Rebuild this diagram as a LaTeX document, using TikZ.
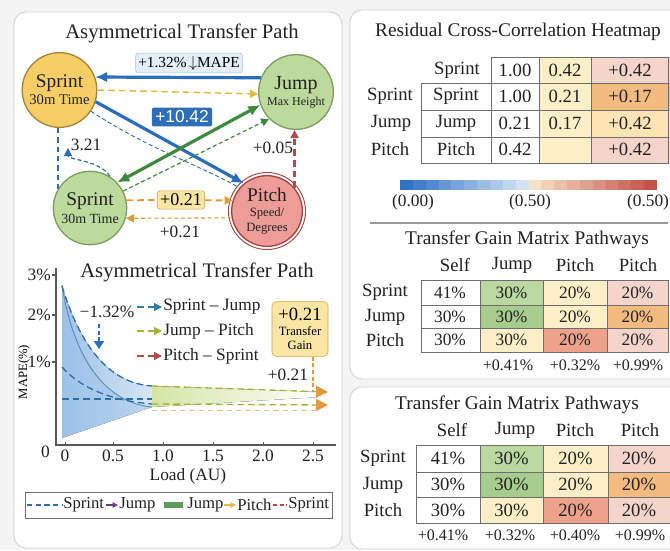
\documentclass[tikz,border=0pt]{standalone}
\usepackage{fontspec}
\setmainfont{Liberation Serif}
\newfontfamily\numsans{Liberation Sans}
\usetikzlibrary{arrows.meta}

\definecolor{bgGray}{HTML}{F4F4F4}
\definecolor{panelLine}{HTML}{D4D4D4}
\definecolor{sprintFill}{HTML}{F7CD66}
\definecolor{sprintLine}{HTML}{A8853A}
\definecolor{jumpFill}{HTML}{BBDA9C}
\definecolor{jumpLine}{HTML}{7E9F62}
\definecolor{pitchFill}{HTML}{EE9C98}
\definecolor{pitchLine}{HTML}{A64442}
\definecolor{arrBlue}{HTML}{2B6DBD}
\definecolor{arrGreen}{HTML}{3E8A3C}
\definecolor{arrYellow}{HTML}{E6B83E}
\definecolor{arrOrange}{HTML}{E39A3B}
\definecolor{arrRed}{HTML}{B54A47}
\definecolor{boxBlue}{HTML}{2E6DB8}
\definecolor{mapeFill}{HTML}{E4EEF9}
\definecolor{mapeLine}{HTML}{A3C0E2}
\definecolor{gainFill}{HTML}{FBE5A4}
\definecolor{gainLine}{HTML}{D4A94A}
\definecolor{areaBlue}{HTML}{9CC2E8}
\definecolor{areaBlueLt}{HTML}{D6E6F5}
\definecolor{areaGreen}{HTML}{D3E5A6}
\definecolor{curveBlue}{HTML}{2F6FA8}
\definecolor{lineOlive}{HTML}{A4B23A}
\definecolor{tealArr}{HTML}{2C7FA0}
\definecolor{gridLine}{HTML}{6E6E6E}
\definecolor{cellYellow}{HTML}{FCEFC8}
\definecolor{cellPink}{HTML}{F5D4CA}
\definecolor{cellOrange}{HTML}{F3BB80}
\definecolor{cellRed}{HTML}{EEA28C}
\definecolor{cellGreen}{HTML}{BAD8A0}
\definecolor{cellGreenDk}{HTML}{A6CD8D}
\definecolor{cbBlue}{HTML}{2E73C6}
\definecolor{cbBlueLt}{HTML}{E4EEF8}
\definecolor{cbCream}{HTML}{FBF1D4}
\definecolor{cbRed}{HTML}{C4514A}
\definecolor{textDark}{HTML}{222222}

\tikzset{
  panel/.style={draw=panelLine, fill=white, line width=0.7pt, rounded corners=9pt},
  bigtitle/.style={inner sep=0.75pt, text=textDark, font=\fontsize{15.5}{18}\selectfont},
  midtitle/.style={inner sep=0.75pt, text=textDark, font=\fontsize{14.5}{17}\selectfont},
  circnode/.style={circle, line width=1pt, minimum size=56pt, inner sep=0pt, align=center, text=textDark},
  thickarrow/.style={line width=2.4pt, -{Latex[length=9pt,width=8pt]}},
  dasharrow/.style={dash pattern=on 5pt off 3pt, line width=1.1pt, -{Triangle[length=6pt,width=6pt]}},
  thindash/.style={dash pattern=on 3pt off 2pt, line width=0.7pt},
  lbl/.style={inner sep=0.75pt, text=textDark, font=\fontsize{13}{15}\selectfont},
  small/.style={inner sep=0.75pt, text=textDark, font=\fontsize{12}{14}\selectfont},
  keytxt/.style={inner sep=0.75pt, text=textDark, font=\fontsize{12.5}{14}\selectfont},
  cellt/.style={inner sep=0.75pt, text=textDark, font=\fontsize{14}{16}\selectfont},
  cellm/.style={inner sep=0.75pt, text=textDark, font=\fontsize{13}{15}\selectfont},
  gridl/.style={draw=gridLine, line width=0.6pt},
}

\begin{document}
\begin{tikzpicture}[x=0.75pt,y=0.75pt,yscale=-1,xscale=1]
\useasboundingbox (0,0) rectangle (670,550);
\fill[bgGray] (0,0) rectangle (670,550);

%Shape: panels
\draw[panel] (14,12) rectangle (342,548);
\draw[panel] (350,10) rectangle (690,379);
\draw[panel] (350,387) rectangle (690,549);
\draw[draw=gridLine!70, line width=0.8pt] (370,223) -- (668,223);

% ---------------- transfer network ----------------
\node[bigtitle] (netTitle) at (182,33) {Asymmetrical Transfer Path};

\node[circnode, draw=sprintLine, fill=sprintFill] (sprintA) at (59.5,90)
  {{\fontsize{14.5}{15}\selectfont Sprint}\\[1pt]{\fontsize{11}{12}\selectfont 30m Time}};
\node[circnode, draw=jumpLine, fill=jumpFill] (jump) at (296,92)
  {{\fontsize{15}{15}\selectfont Jump}\\[0pt]{\fontsize{9}{10}\selectfont Max Height}};
\node[circnode, draw=jumpLine, fill=jumpFill, minimum size=55pt] (sprintB) at (90,208)
  {{\fontsize{14.5}{15}\selectfont Sprint}\\[1pt]{\fontsize{10.5}{11}\selectfont 30m Time}};
\node[circnode, draw=pitchLine, fill=pitchFill, minimum size=53pt] (pitch) at (267,211)
  {{\fontsize{14.5}{15}\selectfont Pitch}\\[-1pt]{\fontsize{9.5}{11}\selectfont Speed/}\\[-1pt]{\fontsize{9.5}{11}\selectfont Degrees}};
\draw[pitchLine, line width=0.7pt] (pitch) circle (38.5);

% Text Node
\node[draw=mapeLine, fill=mapeFill, rounded corners=2pt, inner sep=2pt, font=\fontsize{11.5}{13}\selectfont] (mapeBox) at (189,63) {+1.32\%\,$\downarrow$MAPE};
\node[fill=boxBlue, text=white, rounded corners=1.5pt, inner sep=2.5pt, font=\numsans\fontsize{13}{14}\selectfont] (boostBox) at (182,117) {+10.42};
\node[draw=gainLine, fill=gainFill, rounded corners=2pt, inner sep=2.2pt, font=\fontsize{13.5}{15}\selectfont] (gainAB) at (181,200) {+0.21};

\draw[arrBlue, thickarrow] (jump.158) -- (sprintA.20);
\draw[arrYellow, dasharrow] (sprintA.east) -- (jump.183);
\draw[arrBlue, thickarrow] (sprintA.-18) -- (pitch.130);
\draw[curveBlue, thindash] (sprintA.-34) .. controls (150,150) and (200,165) .. (pitch.140);
\draw[arrGreen, line width=2.4pt, {Latex[length=9pt,width=8pt]}-{Latex[length=9pt,width=8pt]}] (jump.-160) -- (sprintB.43);
\draw[arrGreen, thindash, line width=0.9pt, -{Triangle[length=6pt,width=6pt]}] (sprintB.27) -- (jump.-135);
\draw[arrRed, dasharrow, line width=1.8pt] (pitch.40) -- (pitch.40 |- jump.south);
\draw[arrBlue, dash pattern=on 4pt off 3pt, line width=1.4pt] (sprintA.268) -- (sprintA.268 |- sprintB.150);
\coordinate (tip321) at (68,148);
\draw[curveBlue, thindash, line width=0.9pt, -{Triangle[length=6pt,width=6pt,color=arrBlue]}] (sprintB.58) .. controls (100,160) and (68,160) .. (tip321);
\draw[arrOrange, dash pattern=on 5pt off 3pt, line width=1.4pt] (sprintB.12) -- (gainAB);
\draw[arrOrange, dasharrow, line width=1.4pt] (gainAB) -- (pitch.163);
\draw[arrOrange!80!brown, thindash, line width=0.8pt, -{Triangle[length=6pt,width=6pt,color=arrOrange]}] (pitch.-169) -- (sprintB.-16);

% Text Node
\node[lbl] (lbl321) at (86,145) {3.21};
\node[lbl] (lbl005) at (273,148) {+0.05};
\node[lbl] (lbl021) at (180,232) {+0.21};

% ---------------- load chart ----------------
\node[bigtitle] (chartTitle) at (197,272) {Asymmetrical Transfer Path};

%Shape: shaded bands
\fill[left color=areaBlue, right color=areaBlueLt] (62,286) .. controls (80,345) and (108,383) .. (152,386) -- (152,407) -- (62,438) -- cycle;
\fill[areaBlue, opacity=0.45] (62,285) .. controls (72,350) and (100,402) .. (152,407) -- (62,438) -- cycle;
\fill[left color=areaGreen, right color=white] (152,386) -- (320,392) -- (320,397) -- (152,407) -- cycle;

%Shape: curves
\draw[curveBlue!80, line width=0.7pt] (62,285) .. controls (72,350) and (100,402) .. (152,407);
\draw[curveBlue, dash pattern=on 5pt off 3pt, line width=1pt] (62,286) .. controls (80,345) and (108,383) .. (152,386);
\draw[curveBlue, dash pattern=on 5pt off 3pt, line width=1pt] (62,367) .. controls (78,385) and (105,400) .. (152,404);
\draw[curveBlue, dash pattern=on 5pt off 3pt, line width=1pt] (62,399) -- (152,399);
\coordinate (endHigh) at (328,392);
\coordinate (endLow) at (328,405);
\draw[lineOlive, dash pattern=on 5pt off 3pt, line width=1pt, -{Triangle[length=9pt,width=9pt,color=arrOrange]}] (152,386) -- (endHigh);
\draw[lineOlive, dash pattern=on 5pt off 3pt, line width=1pt, -{Triangle[length=9pt,width=9pt,color=arrOrange]}] (152,404) -- (endLow);
\draw[arrOrange!60, dash pattern=on 4pt off 3pt, line width=0.7pt] (152,410) -- (318,410);

% axes
\draw[gridLine!80!black, line width=0.8pt] (56,268) -- (56,445) -- (336,445);
\foreach \yy/\tx/\nm in {275/3\%/y3, 315/2\%/y2, 362/1\%/y1}{
  \draw[gridLine!80!black, line width=0.8pt] (52,\yy) -- (56,\yy);
  \node[lbl, anchor=east] (\nm) at (52,\yy) {\tx};
}
\node[lbl, anchor=east] (y0) at (51,452) {0};
\foreach \xx/\tx/\nm in {65/0/x0, 113/0.5/x1, 163/1.0/x2, 213/1.5/x3, 263/2.0/x4, 313/2.5/x5}{
  \draw[gridLine!80!black, line width=0.6pt] (\xx,445) -- (\xx,442);
  \node[lbl] (\nm) at (\xx,456) {\tx};
}
\node[lbl] (xTitle) at (188,476) {Load (AU)};
\node[inner sep=0.75pt, rotate=90, font=\fontsize{9.5}{11}\selectfont] (yTitle) at (24,372) {MAPE(\%)};

% Text Node
\node[lbl] (dropLbl) at (107,312) {−1.32\%};
\coordinate (dropTop) at (99,324);
\coordinate (dropTip) at (99,349);
\draw[arrBlue, line width=1.8pt, dash pattern=on 3pt off 2pt, -{Triangle[length=6pt,width=7.5pt]}] (dropTop) -- (dropTip);

% chart legend
\node[lbl, anchor=west] (legSJ) at (162,307) {Sprint – Jump};
\node[lbl, anchor=west] (legJP) at (162,331) {Jump – Pitch};
\node[lbl, anchor=west] (legPS) at (162,356) {Pitch – Sprint};
\draw[tealArr, dasharrow, line width=0.9pt] (137,307) -- (legSJ.west);
\draw[lineOlive, dasharrow, line width=0.9pt] (137,331) -- (legJP.west);
\draw[arrRed, dasharrow, line width=0.9pt] (137,356) -- (legPS.west);

% transfer gain call-out
\node[draw=gainLine, fill=gainFill, rounded corners=3pt, minimum width=42pt, minimum height=41pt, inner sep=1pt, align=center, font=\fontsize{9.5}{10.5}\selectfont] (gainBox) at (300,329)
  {{\fontsize{14}{15}\selectfont +0.21}\\[1pt]Transfer\\Gain};
\coordinate (gainTip) at (313,390);
\draw[arrOrange, dash pattern=on 3pt off 2pt, line width=0.8pt] (gainBox.south -| gainTip) -- (gainTip);
\node[lbl] (gainLbl) at (288,375) {+0.21};

% bottom legend
\draw[gridLine, line width=0.6pt, fill=white] (25,492) rectangle (332,518);
\node[keytxt, anchor=west] (keyA) at (62,505) {Sprint};
\node[keytxt, anchor=west] (keyB) at (118,505) {Jump};
\node[keytxt, anchor=west] (keyC) at (186,505) {Jump};
\node[keytxt, anchor=west] (keyD) at (236,505) {Pitch};
\node[keytxt, anchor=west] (keyE) at (287,505) {Sprint};
\draw[arrBlue, dash pattern=on 4pt off 2.5pt, line width=0.9pt] (27,505) -- (keyA.west);
\draw[arrBlue!60!purple, line width=0.9pt, -{Triangle[length=4pt,width=4pt]}] (106,505) -- (keyB.west);
\fill[arrGreen!85] (164,502) rectangle (183,508);
\draw[arrYellow, line width=0.9pt, -{Triangle[length=4pt,width=4pt]}] (224,505) -- (keyD.west);
\draw[arrRed, dash pattern=on 3pt off 2pt, line width=0.9pt] (273,505) -- (keyE.west);

% ---------------- heatmap ----------------
\node[midtitle] (heatTitle) at (518,32) {Residual Cross-Correlation Heatmap};

\fill[white] (491,57) rectangle (539,163);
\fill[cellYellow] (539,57) rectangle (591,163);
\fill[cellPink] (591,57) rectangle (670,83);
\fill[cellOrange] (591,83) rectangle (670,110);
\fill[cellYellow!90!orange] (591,110) rectangle (670,137);
\fill[cellPink] (591,137) rectangle (670,163);
\draw[gridl] (491,57) -- (668,57) (491,57) -- (491,163) (539,57) -- (539,163) (591,57) -- (591,163) (668,57) -- (668,163);
\draw[gridl] (421,83) rectangle (668,163);
\draw[gridl] (421,110) -- (668,110) (421,137) -- (668,137);

\node[cellt] (hmRowS) at (390,96) {Sprint};
\node[cellt] (hmRowJ) at (391,123) {Jump};
\node[cellt] (hmRowP) at (390,149) {Pitch};
\node[cellt] (hmHead) at (457,70) {Sprint};
\node[cellt] (hmLabS) at (456,96) {Sprint};
\node[cellt] (hmLabJ) at (456,123) {Jump};
\node[cellt] (hmLabP) at (456,149) {Pitch};

\node[cellt] (hm01) at (515,70) {1.00};
\node[cellt] (hm02) at (565,70) {0.42};
\node[cellt] (hm03) at (630,70) {+0.42};
\node[cellt] (hm11) at (515,96) {1.00};
\node[cellt] (hm12) at (565,96) {0.21};
\node[cellt] (hm13) at (630,96) {+0.17};
\node[cellt] (hm21) at (515,123) {0.21};
\node[cellt] (hm22) at (565,123) {0.17};
\node[cellt] (hm23) at (630,123) {+0.42};
\node[cellt] (hm31) at (515,149) {0.42};
\node[cellt] (hm33) at (630,149) {+0.42};

% colour bar
\foreach \i in {0,...,9}{
  \pgfmathsetmacro\pa{100-10*\i}
  \pgfmathsetmacro\pb{10+10*\i}
  \fill[cbBlue!\pa!cbBlueLt] (400+12.85*\i,180) rectangle (400+12.85*\i+12.95,190);
  \fill[cbRed!\pb!cbCream] (528.5+12.85*\i,180) rectangle (528.5+12.85*\i+12.95,190);
}
\node[cellm] (cbLow) at (413,202) {(0.00)};
\node[cellm] (cbMidLbl) at (530,202) {(0.50)};
\node[cellm] (cbHigh) at (648,202) {(0.50)};

% ---------------- transfer gain matrix 1 ----------------
\node[midtitle] (gainTitleA) at (527,240) {Transfer Gain Matrix Pathways};
\node[cellt] (gaHead1) at (455,265) {Self};
\node[cellt] (gaHead2) at (512,265) {Jump};
\node[cellt] (gaHead3) at (575,265) {Pitch};
\node[cellt] (gaHead4) at (638,265) {Pitch};

\fill[white] (421,280) rectangle (480,352);
\fill[cellGreen] (480,280) rectangle (543,305);
\fill[cellGreenDk] (480,305) rectangle (543,328);
\fill[cellYellow] (480,328) rectangle (543,352);
\fill[cellYellow] (543,280) rectangle (607,328);
\fill[cellRed] (543,328) rectangle (607,352);
\fill[cellPink] (607,280) rectangle (668,305);
\fill[cellOrange] (607,305) rectangle (668,328);
\fill[cellPink] (607,328) rectangle (668,352);
\draw[gridl] (421,280) rectangle (668,352);
\draw[gridl] (480,280) -- (480,352) (543,280) -- (543,352) (607,280) -- (607,352);
\draw[gridl] (421,305) -- (668,305) (421,328) -- (668,328);

\node[cellt] (gaRowS) at (385,292) {Sprint};
\node[cellt] (gaRowJ) at (385,317) {Jump};
\node[cellt] (gaRowP) at (385,340) {Pitch};
\node[cellm] (ga11) at (450,292.5) {41\%};
\node[cellm] (ga12) at (511.5,292.5) {30\%};
\node[cellm] (ga13) at (575,292.5) {20\%};
\node[cellm] (ga14) at (637.5,292.5) {20\%};
\node[cellm] (ga21) at (450,316.5) {30\%};
\node[cellm] (ga22) at (511.5,316.5) {30\%};
\node[cellm] (ga23) at (575,316.5) {20\%};
\node[cellm] (ga24) at (637.5,316.5) {20\%};
\node[cellm] (ga31) at (450,340) {30\%};
\node[cellm] (ga32) at (511.5,340) {30\%};
\node[cellm] (ga33) at (575,340) {20\%};
\node[cellm] (ga34) at (637.5,340) {20\%};
\node[small] (gaFoot2) at (508,365) {+0.41\%};
\node[small] (gaFoot3) at (575,365) {+0.32\%};
\node[small] (gaFoot4) at (638,365) {+0.99\%};

% ---------------- transfer gain matrix 2 ----------------
\node[midtitle] (gainTitleB) at (517,405) {Transfer Gain Matrix Pathways};
\node[cellt] (gbHead1) at (452,430) {Self};
\node[cellt] (gbHead2) at (515,430) {Jump};
\node[cellt] (gbHead3) at (575,430) {Pitch};
\node[cellt] (gbHead4) at (640,430) {Pitch};

\fill[white] (416,445) rectangle (480,523);
\fill[cellGreen] (480,445) rectangle (543,472);
\fill[cellGreenDk] (480,472) rectangle (543,497);
\fill[cellYellow] (480,497) rectangle (543,523);
\fill[cellYellow] (543,445) rectangle (608,497);
\fill[cellRed] (543,497) rectangle (608,523);
\fill[cellPink] (608,445) rectangle (672,472);
\fill[cellOrange] (608,472) rectangle (672,497);
\fill[cellPink] (608,497) rectangle (672,523);
\draw[gridl] (672,523) -- (416,523) -- (416,445) -- (672,445);
\draw[gridl] (480,445) -- (480,523) (543,445) -- (543,523) (608,445) -- (608,523);
\draw[gridl] (416,472) -- (672,472) (416,497) -- (672,497);

\node[cellt] (gbRowS) at (383,458) {Sprint};
\node[cellt] (gbRowJ) at (383,485) {Jump};
\node[cellt] (gbRowP) at (383,510) {Pitch};
\node[cellt] (gb11) at (448,458.5) {41\%};
\node[cellt] (gb12) at (511.5,458.5) {30\%};
\node[cellt] (gb13) at (575.5,458.5) {20\%};
\node[cellt] (gb14) at (639,458.5) {20\%};
\node[cellt] (gb21) at (448,484.5) {30\%};
\node[cellt] (gb22) at (511.5,484.5) {30\%};
\node[cellt] (gb23) at (575.5,484.5) {20\%};
\node[cellt] (gb24) at (639,484.5) {20\%};
\node[cellt] (gb31) at (448,510) {30\%};
\node[cellt] (gb32) at (511.5,510) {30\%};
\node[cellt] (gb33) at (575.5,510) {20\%};
\node[cellt] (gb34) at (639,510) {20\%};
\node[small] (gbFoot1) at (443,535) {+0.41\%};
\node[small] (gbFoot2) at (510,535) {+0.32\%};
\node[small] (gbFoot3) at (575,535) {+0.40\%};
\node[small] (gbFoot4) at (640,535) {+0.99\%};

\end{tikzpicture}
\end{document}
